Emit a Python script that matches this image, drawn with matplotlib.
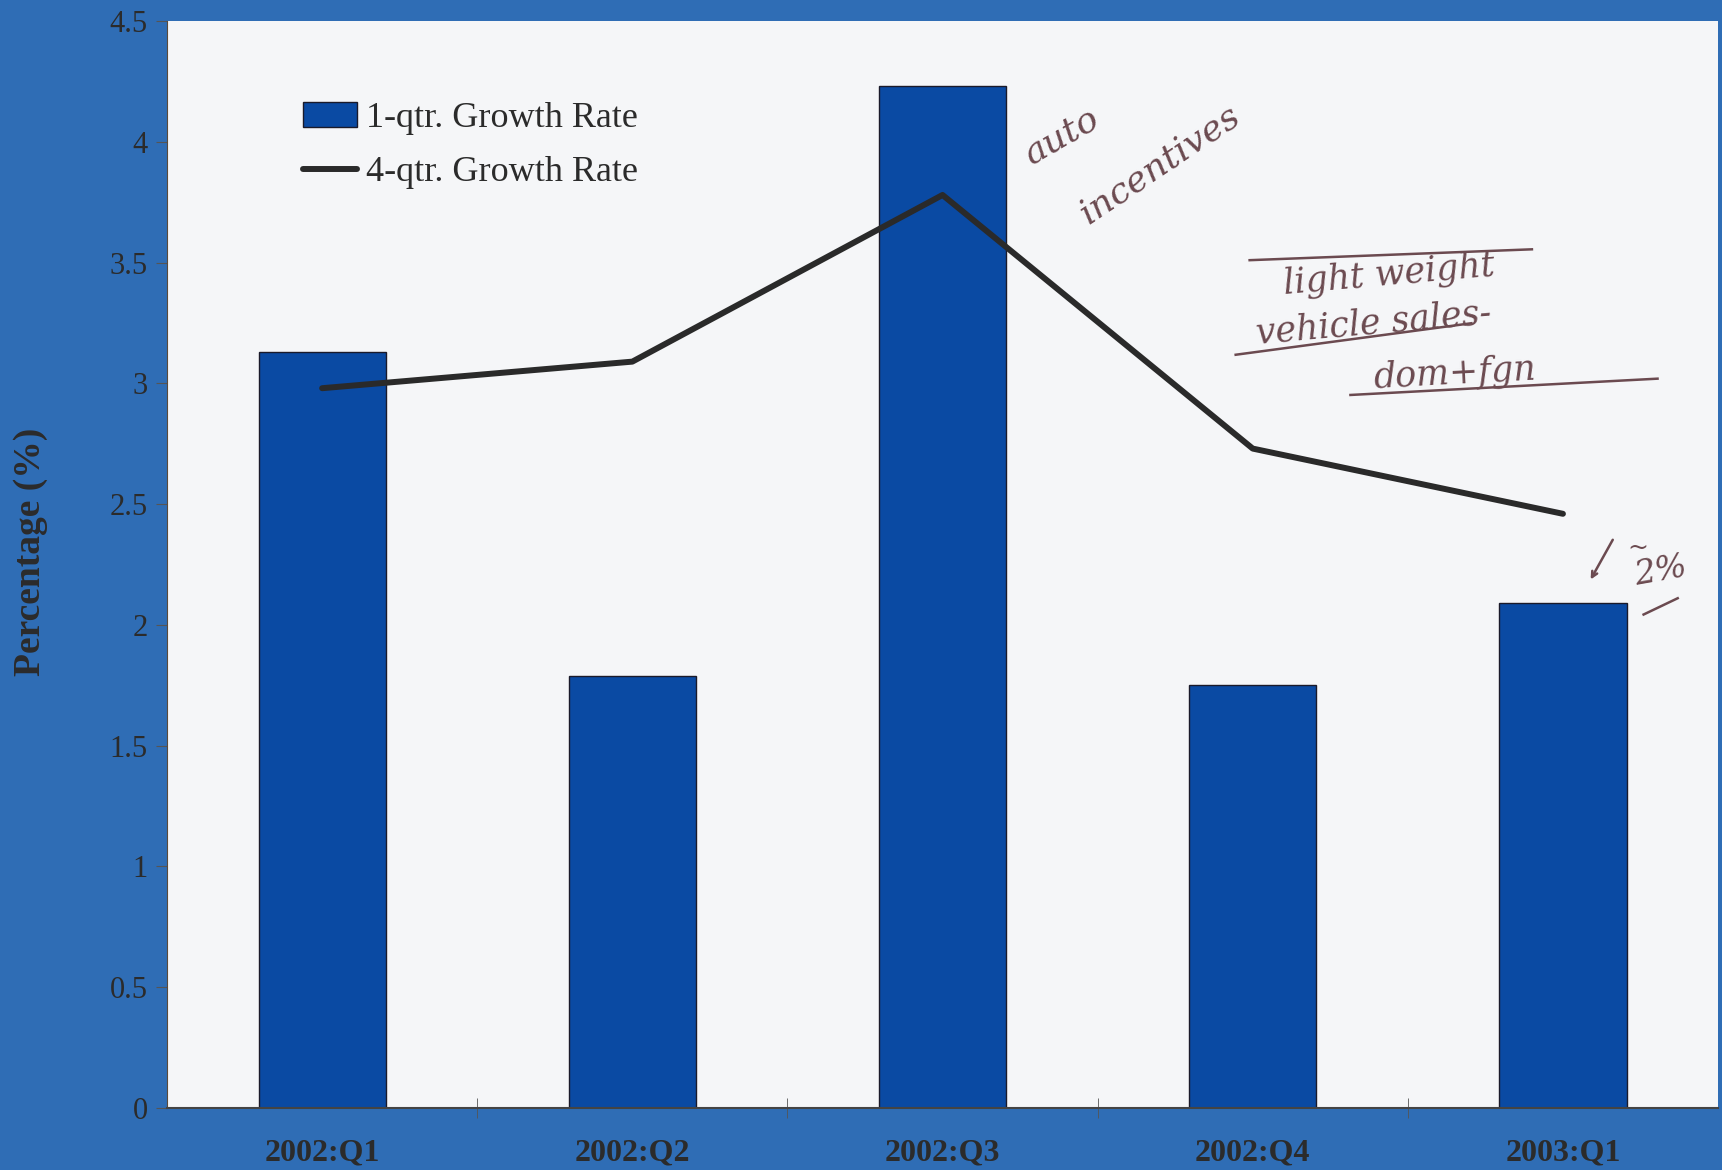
import numpy as np
import matplotlib
matplotlib.use("Agg")
import matplotlib.pyplot as plt

# data
quarters = ["2002:Q1", "2002:Q2", "2002:Q3", "2002:Q4", "2003:Q1"]
growth_1q = [3.13, 1.79, 4.23, 1.75, 2.09]
growth_4q = [2.98, 3.09, 3.78, 2.73, 2.46]
yticks = [0, 0.5, 1, 1.5, 2, 2.5, 3, 3.5, 4, 4.5]

bg_blue = "#2f6db5"
bar_blue = "#0a4aa3"
ink = "#6b4a50"

plt.rcParams['font.family'] = ['Liberation Serif', 'DejaVu Serif']

fig = plt.figure(figsize=(17.22, 11.7), dpi=100, facecolor=bg_blue)
# axes: left 167px, right 1718px, top 21px, bottom 1108px
ax = fig.add_axes([0.097, 0.053, 0.9007, 0.929])
ax.set_facecolor("#f5f6f8")

x = np.arange(len(quarters))
bars = ax.bar(x, growth_1q, width=0.41, color=bar_blue, edgecolor="#1a1a2a",
              linewidth=1.0, label="1-qtr. Growth Rate", zorder=2)
line, = ax.plot(x, growth_4q, color="#2a2a2a", linewidth=4.3, solid_capstyle="round",
                label="4-qtr. Growth Rate", zorder=3)

ax.set_xlim(-0.5, len(quarters) - 0.5)
ax.set_ylim(0, 4.5)
ax.set_yticks(yticks)
ax.set_yticklabels([f"{v:g}" for v in yticks], fontsize=22, color="#2b2b2b")
ax.set_xticks(x)
ax.set_xticklabels(quarters, fontsize=23, fontweight="bold", color="#2b2b2b")
ax.set_xticks(x[:-1] + 0.5, minor=True)
ax.tick_params(axis="y", length=8, color="#555555", pad=6)
ax.tick_params(axis="x", which="major", length=0, pad=22)
ax.tick_params(axis="x", which="minor", length=14, direction="inout", color="#555555")
ax.set_ylabel("Percentage (%)", fontsize=27, fontweight="bold", color="#2b2b2b")
ax.yaxis.set_label_coords(-0.077, 0.512)

for s in ["top", "right"]:
    ax.spines[s].set_visible(False)
ax.spines["left"].set_color("#5a4a3a")
ax.spines["bottom"].set_color("#444444")
ax.spines["bottom"].set_linewidth(1.5)

ax.legend(handles=[bars, line], loc="upper left", bbox_to_anchor=(0.076, 0.942),
          frameon=False, fontsize=26, handlelength=1.5, handleheight=0.65,
          handletextpad=0.25, labelspacing=0.58, borderpad=0, labelcolor="#2b2b2b")

# handwritten notes
hand = dict(transform=ax.transAxes, color=ink, style="italic",
            family="DejaVu Serif", ha="center", va="center")
ax.text(0.577, 0.895, "auto", fontsize=26, rotation=30, **hand)
ax.text(0.640, 0.868, "incentives", fontsize=26, rotation=34, **hand)
ax.text(0.788, 0.767, "light weight", fontsize=25, rotation=5, **hand)
ax.text(0.778, 0.722, "vehicle sales-", fontsize=25, rotation=5, **hand)
ax.text(0.830, 0.676, "dom+fgn", fontsize=25, rotation=3, **hand)
ax.text(0.948, 0.515, "~", fontsize=18, **hand)
ax.text(0.963, 0.494, "2%", fontsize=24, rotation=10, **hand)
strikes = [((0.698, 0.880), (0.780, 0.790)),
           ((0.689, 0.841), (0.693, 0.722)),
           ((0.763, 0.961), (0.656, 0.671)),
           ((0.952, 0.974), (0.454, 0.469))]
for xs, ys in strikes:
    ax.plot(xs, ys, transform=ax.transAxes, color=ink, linewidth=1.8, zorder=4)
ax.annotate("", xy=(0.917, 0.484), xycoords="axes fraction",
            xytext=(0.933, 0.525), textcoords="axes fraction",
            arrowprops=dict(arrowstyle="->", color=ink, lw=1.8))

fig.savefig("out.png", dpi=100, facecolor=bg_blue)
